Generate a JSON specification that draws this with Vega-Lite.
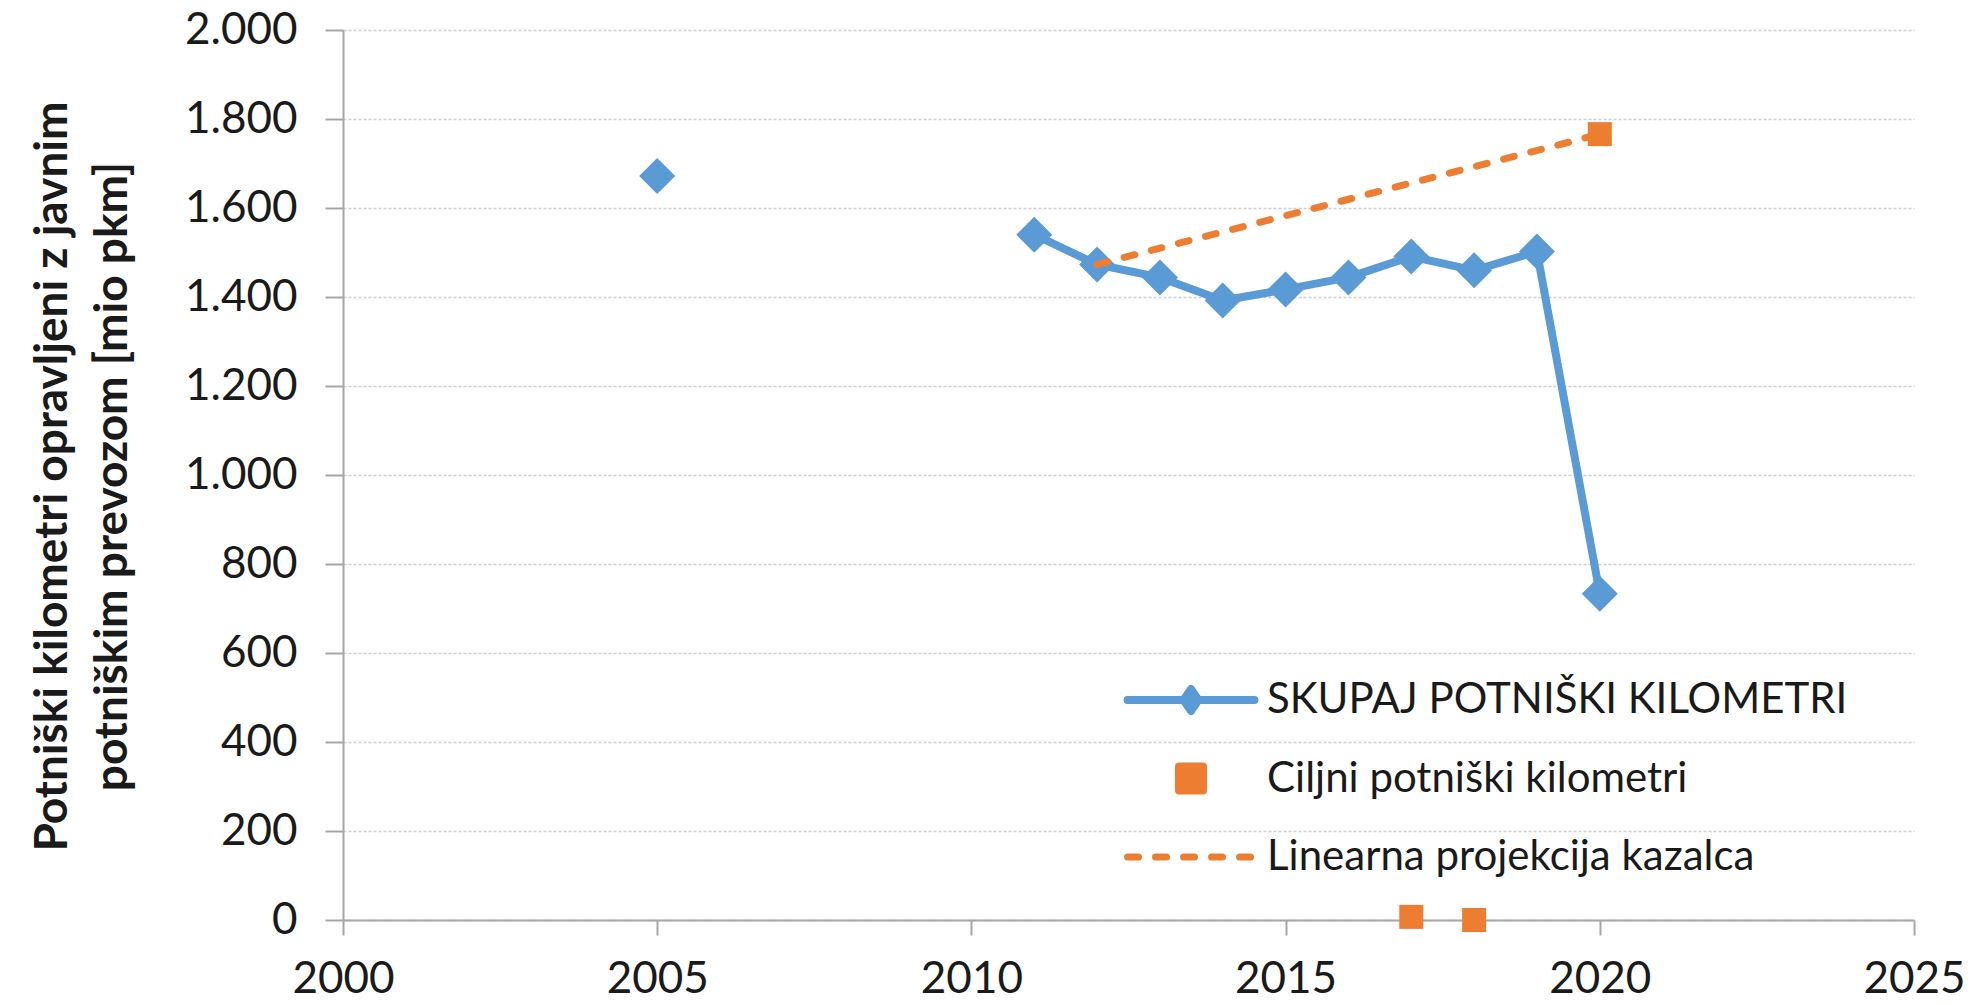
{
  "$schema": "https://vega.github.io/schema/vega-lite/v6.json",
  "width": 1571,
  "height": 890,
  "autosize": {"type": "none"},
  "padding": {"left": 343, "top": 30, "right": 59, "bottom": 85},
  "background": "white",
  "config": {"view": {"stroke": null}, "font": "Lato"},
  "data": {
    "values": [
      {"leto": 2005, "vrednost": 1672, "serija": "SKUPAJ POTNIŠKI KILOMETRI", "segment": "a"},
      {"leto": 2011, "vrednost": 1540, "serija": "SKUPAJ POTNIŠKI KILOMETRI", "segment": "b"},
      {"leto": 2012, "vrednost": 1473, "serija": "SKUPAJ POTNIŠKI KILOMETRI", "segment": "b"},
      {"leto": 2013, "vrednost": 1444, "serija": "SKUPAJ POTNIŠKI KILOMETRI", "segment": "b"},
      {"leto": 2014, "vrednost": 1392, "serija": "SKUPAJ POTNIŠKI KILOMETRI", "segment": "b"},
      {"leto": 2015, "vrednost": 1417, "serija": "SKUPAJ POTNIŠKI KILOMETRI", "segment": "b"},
      {"leto": 2016, "vrednost": 1444, "serija": "SKUPAJ POTNIŠKI KILOMETRI", "segment": "b"},
      {"leto": 2017, "vrednost": 1491, "serija": "SKUPAJ POTNIŠKI KILOMETRI", "segment": "b"},
      {"leto": 2018, "vrednost": 1460, "serija": "SKUPAJ POTNIŠKI KILOMETRI", "segment": "b"},
      {"leto": 2019, "vrednost": 1502, "serija": "SKUPAJ POTNIŠKI KILOMETRI", "segment": "b"},
      {"leto": 2020, "vrednost": 733, "serija": "SKUPAJ POTNIŠKI KILOMETRI", "segment": "b"},
      {"leto": 2017, "vrednost": 7, "serija": "Ciljni potniški kilometri", "segment": "c"},
      {"leto": 2018, "vrednost": 0, "serija": "Ciljni potniški kilometri", "segment": "c"},
      {"leto": 2020, "vrednost": 1766, "serija": "Ciljni potniški kilometri", "segment": "c"},
      {"leto": 2012, "vrednost": 1473, "serija": "Linearna projekcija kazalca", "segment": "d"},
      {"leto": 2020, "vrednost": 1766, "serija": "Linearna projekcija kazalca", "segment": "d"}
    ]
  },
  "encoding": {
    "x": {
      "field": "leto",
      "type": "quantitative",
      "scale": {"domain": [2000, 2025], "nice": false, "zero": false},
      "axis": {
        "title": null,
        "values": [2000, 2005, 2010, 2015, 2020, 2025],
        "format": "d",
        "grid": false,
        "labelFont": "Lato",
        "labelFontSize": 44,
        "labelColor": "#1a1a1a",
        "labelPadding": 22,
        "labelFlush": false,
        "labelOverlap": false,
        "tickSize": 15,
        "tickWidth": 2,
        "tickColor": "#a6a6a6",
        "domainColor": "#a6a6a6",
        "domainWidth": 2
      }
    },
    "y": {
      "field": "vrednost",
      "type": "quantitative",
      "scale": {"domain": [0, 2000], "nice": false},
      "axis": {
        "title": ["Potniški kilometri opravljeni z javnim", "potniškim prevozom [mio pkm]"],
        "titleFont": "Lato",
        "titleFontSize": 46,
        "titleFontWeight": "bold",
        "titleColor": "#1a1a1a",
        "titleLineHeight": 60,
        "titleAngle": -90,
        "titleX": -291,
        "titleY": 446,
        "titleAlign": "center",
        "titleBaseline": "middle",
        "values": [0, 200, 400, 600, 800, 1000, 1200, 1400, 1600, 1800, 2000],
        "labelExpr": "replace(format(datum.value, ','), ',', '.')",
        "labelFont": "Lato",
        "labelFontSize": 44,
        "labelColor": "#1a1a1a",
        "labelPadding": 28,
        "labelOverlap": false,
        "tickSize": 18,
        "tickWidth": 2,
        "tickColor": "#a6a6a6",
        "domainColor": "#a6a6a6",
        "domainWidth": 2,
        "grid": true,
        "gridColor": "#cfcfcf",
        "gridDash": [3, 2],
        "gridWidth": 1.5
      }
    },
    "color": {
      "field": "serija",
      "type": "nominal",
      "scale": {
        "domain": ["SKUPAJ POTNIŠKI KILOMETRI", "Ciljni potniški kilometri", "Linearna projekcija kazalca"],
        "range": ["#5B9BD5", "#ED7D31", "#ED7D31"]
      },
      "legend": {
        "title": null,
        "orient": "none",
        "legendX": 827,
        "legendY": 649,
        "padding": 0,
        "labelFont": "Lato",
        "labelFontSize": 42,
        "labelColor": "#1a1a1a",
        "labelLimit": 1000,
        "labelOffset": 55,
        "symbolSize": 900,
        "rowPadding": 36.5,
        "encode": {
          "symbols": {
            "update": {
              "shape": {"signal": "datum.value === 'SKUPAJ POTNIŠKI KILOMETRI' ? 'M-4.23,0L4.23,0M0,-0.73L0.5,0L0,0.73L-0.5,0Z' : datum.value === 'Ciljni potniški kilometri' ? 'M-0.8,-0.8L0.8,-0.8L0.8,0.8L-0.8,0.8Z' : 'M-4.23,0L4.23,0'"},
              "fill": {"signal": "datum.value === 'SKUPAJ POTNIŠKI KILOMETRI' ? '#5B9BD5' : datum.value === 'Ciljni potniški kilometri' ? '#ED7D31' : 'transparent'"},
              "stroke": {"signal": "datum.value === 'SKUPAJ POTNIŠKI KILOMETRI' ? '#5B9BD5' : datum.value === 'Ciljni potniški kilometri' ? 'transparent' : '#ED7D31'"},
              "strokeWidth": {"signal": "datum.value === 'Linearna projekcija kazalca' ? 7 : 8"},
              "strokeDash": {"signal": "datum.value === 'Linearna projekcija kazalca' ? [11, 17] : [1, 0]"},
              "strokeCap": {"value": "round"},
              "strokeJoin": {"value": "round"},
              "opacity": {"value": 1},
              "fillOpacity": {"value": 1},
              "size": {"value": 900}
            }
          }
        }
      }
    }
  },
  "layer": [
    {
      "transform": [{"filter": "datum.serija === 'SKUPAJ POTNIŠKI KILOMETRI'"}],
      "mark": {"type": "line", "strokeWidth": 8, "strokeJoin": "round"},
      "encoding": {"detail": {"field": "segment", "type": "nominal"}}
    },
    {
      "transform": [{"filter": "datum.serija === 'SKUPAJ POTNIŠKI KILOMETRI'"}],
      "mark": {"type": "point", "shape": "diamond", "filled": true, "size": 1296, "opacity": 1},
      "encoding": {}
    },
    {
      "transform": [{"filter": "datum.serija === 'Ciljni potniški kilometri'"}],
      "mark": {"type": "point", "shape": "square", "filled": true, "size": 576, "opacity": 1},
      "encoding": {}
    },
    {
      "transform": [{"filter": "datum.serija === 'Linearna projekcija kazalca'"}],
      "mark": {"type": "line", "strokeWidth": 7, "strokeDash": [11, 17], "strokeCap": "round"},
      "encoding": {}
    }
  ]
}
